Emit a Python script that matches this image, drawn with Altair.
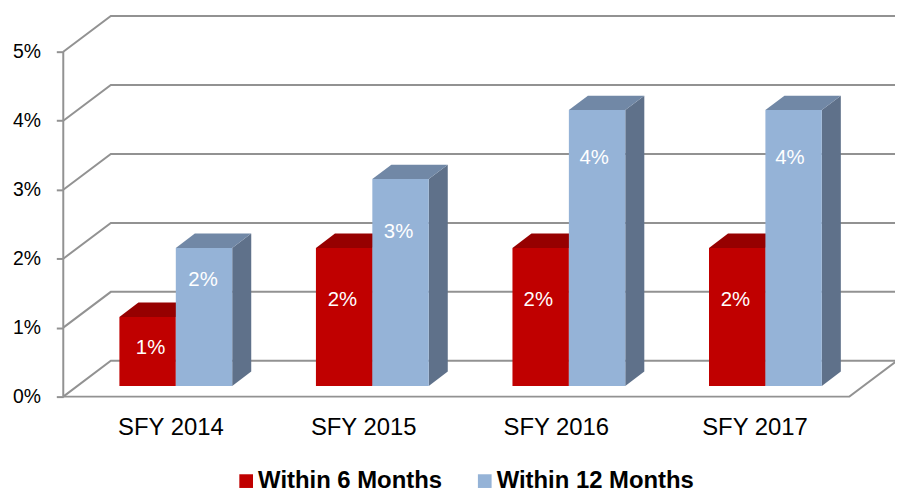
import json
import altair as alt
import pandas as pd

categories = ["SFY 2014", "SFY 2015", "SFY 2016", "SFY 2017"]
series = ["Within 6 Months", "Within 12 Months"]
within_6 = [1, 2, 2, 2]
within_12 = [2, 3, 4, 4]
y_ticks = [0, 1, 2, 3, 4, 5]

# layout of the 3-D box, in axis units
DX, DY = 0.242, 0.519       # full depth of the floor
D0, D1 = 0.30, 0.70         # bar depth range (fraction of the floor)
BAR_W = 0.287
X_MAX, Y_MAX = 4.232, 5.52
FONT = "Liberation Sans"
GRAY = "#929292"
FRONT = ["#C00000", "#95B3D7"]
TOP = ["#960000", "#7188A6"]
SIDE = ["#7A0000", "#5F718A"]
LABEL_X_SHIFT = [[0.015, -0.009, -0.012, -0.009], [-0.005, -0.010, -0.015, -0.019]]
LABEL_Y = [[0.702, 1.396, 1.396, 1.396], [1.696, 2.386, 3.466, 3.466]]
CAT_POS = [0.545, 1.526, 2.506, 3.517]

xs = alt.Scale(domain=[0, X_MAX], nice=False, zero=False)
ys = alt.Scale(domain=[0, Y_MAX], nice=False, zero=False)
X = lambda f="x": alt.X(f"{f}:Q", scale=xs, title=None)
Y = lambda f="y": alt.Y(f"{f}:Q", scale=ys, title=None)

# invisible layer that carries the two real axes
axes = alt.Chart(pd.DataFrame({"x": CAT_POS, "y": [0, 1, 2, 3]})).mark_point(opacity=0).encode(
    x=alt.X("x:Q", scale=xs, title=None, axis=alt.Axis(
        values=CAT_POS, labelExpr=f"{json.dumps(categories)}[floor(datum.value)]",
        grid=False, domain=False, ticks=False, labelFont=FONT, labelFontSize=24,
        labelColor="#000000", labelPadding=19, labelFlush=False, labelOverlap=False)),
    y=alt.Y("y:Q", scale=ys, title=None, axis=alt.Axis(
        values=y_ticks, labelExpr="datum.value + '%'", grid=False, domain=False,
        tickColor=GRAY, tickWidth=2, tickSize=7, labelFont=FONT, labelFontSize=19.5,
        labelColor="#000000", labelPadding=16)),
)

# walls and floor
path = []
for v in y_ticks:
    path += [dict(k=v, x=0, y=v), dict(k=v, x=DX, y=v + DY), dict(k=v, x=4 + DX, y=v + DY)]
path += [dict(k="floor", x=0, y=0), dict(k="floor", x=4, y=0), dict(k="floor", x=4 + DX, y=DY)]
grid = alt.Chart(pd.DataFrame(path)).mark_line(color=GRAY, strokeWidth=2).encode(
    x=X(), y=Y(), detail="k:N"
)
wall = alt.Chart(pd.DataFrame({"x": [0], "y": [0], "y2": [5]})).mark_rule(
    color=GRAY, strokeWidth=2
).encode(x=X(), y=Y(), y2="y2:Q")

layers = [axes, grid, wall]
color = alt.Color("s:N", scale=alt.Scale(domain=series, range=FRONT), legend=alt.Legend(
    title=None, orient="none", legendX=172, legendY=456, direction="horizontal", columns=2,
    symbolType="square", symbolSize=190, symbolStrokeWidth=0, labelFont=FONT, labelFontSize=24,
    labelFontWeight="bold", labelColor="#000000", columnPadding=30, labelOffset=0, labelLimit=300))

labels = []
for si, vals in enumerate([within_6, within_12]):
    sides, tops, fronts = [], [], []
    for c, v in enumerate(vals):
        left = c + 0.5 - BAR_W + si * BAR_W + D0 * DX
        right = left + BAR_W
        base = D0 * DY
        top = v + base
        depth_x, depth_y = (D1 - D0) * DX, (D1 - D0) * DY
        sides += [dict(k=c, x=right, y=top, y2=base),
                  dict(k=c, x=right + depth_x, y=top + depth_y, y2=base + depth_y)]
        tops += [dict(k=c, y=top, x=left, x2=right),
                 dict(k=c, y=top + depth_y, x=left + depth_x, x2=right + depth_x)]
        fronts.append(dict(s=series[si], x=left, x2=right, y=base, y2=top))
        labels.append(dict(x=(left + right) / 2 + LABEL_X_SHIFT[si][c], y=LABEL_Y[si][c], t=f"{v}%"))
    layers.append(alt.Chart(pd.DataFrame(sides)).mark_area(color=SIDE[si]).encode(
        x=X(), y=Y(), y2="y2:Q", detail="k:N"))
    layers.append(alt.Chart(pd.DataFrame(tops)).mark_area(color=TOP[si], orient="horizontal").encode(
        y=Y(), x=X(), x2="x2:Q", detail="k:N"))
    layers.append(alt.Chart(pd.DataFrame(fronts)).mark_rect().encode(
        x=X(), x2="x2:Q", y=Y(), y2="y2:Q", color=color))

layers.append(alt.Chart(pd.DataFrame(labels)).mark_text(
    color="#FFFFFF", font=FONT, fontSize=20.5, baseline="middle", align="center"
).encode(x=X(), y=Y(), text="t:N"))

chart = alt.layer(*layers).properties(
    width=836.7, height=383,
    autosize=alt.AutoSizeParams(type="none"),
    padding={"left": 55.6, "top": 6.5, "right": 0, "bottom": 94},
).configure_view(stroke=None)

chart.save("out.html", embed_options={"renderer": "svg", "actions": False})
